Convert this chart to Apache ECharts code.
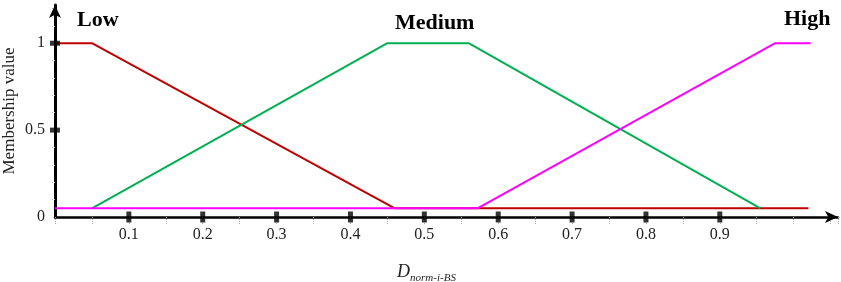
<!DOCTYPE html>
<html>
<head>
<meta charset="utf-8">
<script src="https://cdn.jsdelivr.net/npm/echarts@6/dist/echarts.min.js"></script>
<style>
html,body{margin:0;padding:0;background:#fff;}
#c{width:841px;height:282px;}
</style>
</head>
<body>
<div id="c"></div>
<script>
// ---- data ----
const seriesNames = ["Low", "Medium", "High"];
const lowData = [[0, 1], [0.05, 1], [0.46, 0.05], [1.02, 0.05]];
const mediumData = [[0.05, 0.05], [0.45, 1], [0.56, 1], [0.955, 0.05]];
const highData = [[0, 0.05], [0.572, 0.05], [0.975, 1], [1.023, 1]];
const xTickValues = [0.1, 0.2, 0.3, 0.4, 0.5, 0.6, 0.7, 0.8, 0.9];
const xTickLabels = ["0.1", "0.2", "0.3", "0.4", "0.5", "0.6", "0.7", "0.8", "0.9"];
const yTickValues = [0.5, 1];
const yTickLabels = {"0": "0", "0.5": "0.5", "1": "1"};
const xTitleMain = "D";
const xTitleSub = "norm-i-BS";
const yTitle = "Membership value";

const colors = ["#c00000", "#00b050", "#ff00ff"];
const serif = "'Liberation Serif', 'DejaVu Serif', serif";

const chart = echarts.init(document.getElementById('c'));

function xLabel(v) {
  for (let i = 0; i < xTickValues.length; i++) {
    if (Math.abs(v - xTickValues[i]) < 1e-6) return xTickLabels[i];
  }
  return '';
}
function yLabel(v) {
  const k = String(Math.round(v * 10) / 10);
  return yTickLabels[k] !== undefined ? yTickLabels[k] : '';
}

const lineSeries = [lowData, mediumData, highData].map((d, i) => ({
  type: 'line',
  name: seriesNames[i],
  data: d,
  showSymbol: false,
  symbol: 'none',
  clip: false,
  lineStyle: { color: colors[i], width: 2 },
  z: 3 + i
}));

chart.setOption({
  animation: false,
  backgroundColor: '#fff',
  grid: { left: 55, right: 3, top: 5, bottom: 65, containLabel: false, outerBoundsMode: 'none' },
  xAxis: {
    type: 'value',
    min: 0, max: 1.06, interval: 0.1,
    splitLine: { show: false },
    axisLine: {
      show: true, onZero: false,
      lineStyle: { color: '#000', width: 2.5 },
      symbol: ['none', 'arrow'], symbolSize: [9, 13]
    },
    axisTick: { show: true, length: 7, lineStyle: { color: '#aaa', type: 'dotted', width: 1 } },
    minorTick: { show: true, splitNumber: 2, length: 7, lineStyle: { color: '#aaa', type: 'dotted', width: 1 } },
    axisLabel: {
      formatter: xLabel, margin: 10,
      fontFamily: serif, fontSize: 16, color: '#222'
    },
    name: '{d|' + xTitleMain + '}{s|' + xTitleSub + '}',
    nameLocation: 'middle',
    nameGap: 44,
    nameMoveOverlap: false,
    nameTextStyle: {
      padding: [0, 40, 0, 0],
      rich: {
        d: { fontFamily: serif, fontStyle: 'italic', fontSize: 18, color: '#222', verticalAlign: 'bottom', lineHeight: 20 },
        s: { fontFamily: serif, fontStyle: 'italic', fontSize: 11, color: '#222', verticalAlign: 'bottom', lineHeight: 14, padding: [0, 0, -3, 0] }
      }
    }
  },
  yAxis: {
    type: 'value',
    min: 0, max: 1.22, interval: 0.5,
    splitLine: { show: false },
    axisLine: {
      show: true,
      lineStyle: { color: '#000', width: 3 },
      symbol: ['none', 'arrow'], symbolSize: [9, 13]
    },
    axisTick: { show: false },
    minorTick: { show: true, splitNumber: 5, length: 4, lineStyle: { color: '#bbb', type: 'dotted', width: 1 } },
    axisLabel: {
      formatter: yLabel, margin: 10, showMaxLabel: false,
      fontFamily: serif, fontSize: 16, color: '#222'
    },
    name: yTitle,
    nameLocation: 'middle',
    nameGap: 37,
    nameMoveOverlap: false,
    nameTextStyle: { fontFamily: serif, fontSize: 17, color: '#222' }
  },
  series: lineSeries.concat([
    {
      type: 'scatter',
      data: xTickValues.map(v => [v, 0]),
      symbol: 'rect', symbolSize: [5, 11],
      itemStyle: { color: '#000' },
      clip: false, silent: true, z: 10
    },
    {
      type: 'scatter',
      data: yTickValues.map(v => [0, v]),
      symbol: 'rect', symbolSize: [10, 5],
      itemStyle: { color: '#000' },
      clip: false, silent: true, z: 10
    }
  ]),
  graphic: [
    { type: 'text', left: 77, top: 9, style: { text: seriesNames[0], font: "bold 22px 'Liberation Serif'", fill: '#000' } },
    { type: 'text', left: 395, top: 12, style: { text: seriesNames[1], font: "bold 22px 'Liberation Serif'", fill: '#000' } },
    { type: 'text', left: 784, top: 8, style: { text: seriesNames[2], font: "bold 22px 'Liberation Serif'", fill: '#000' } }
  ]
});
</script>
</body>
</html>
